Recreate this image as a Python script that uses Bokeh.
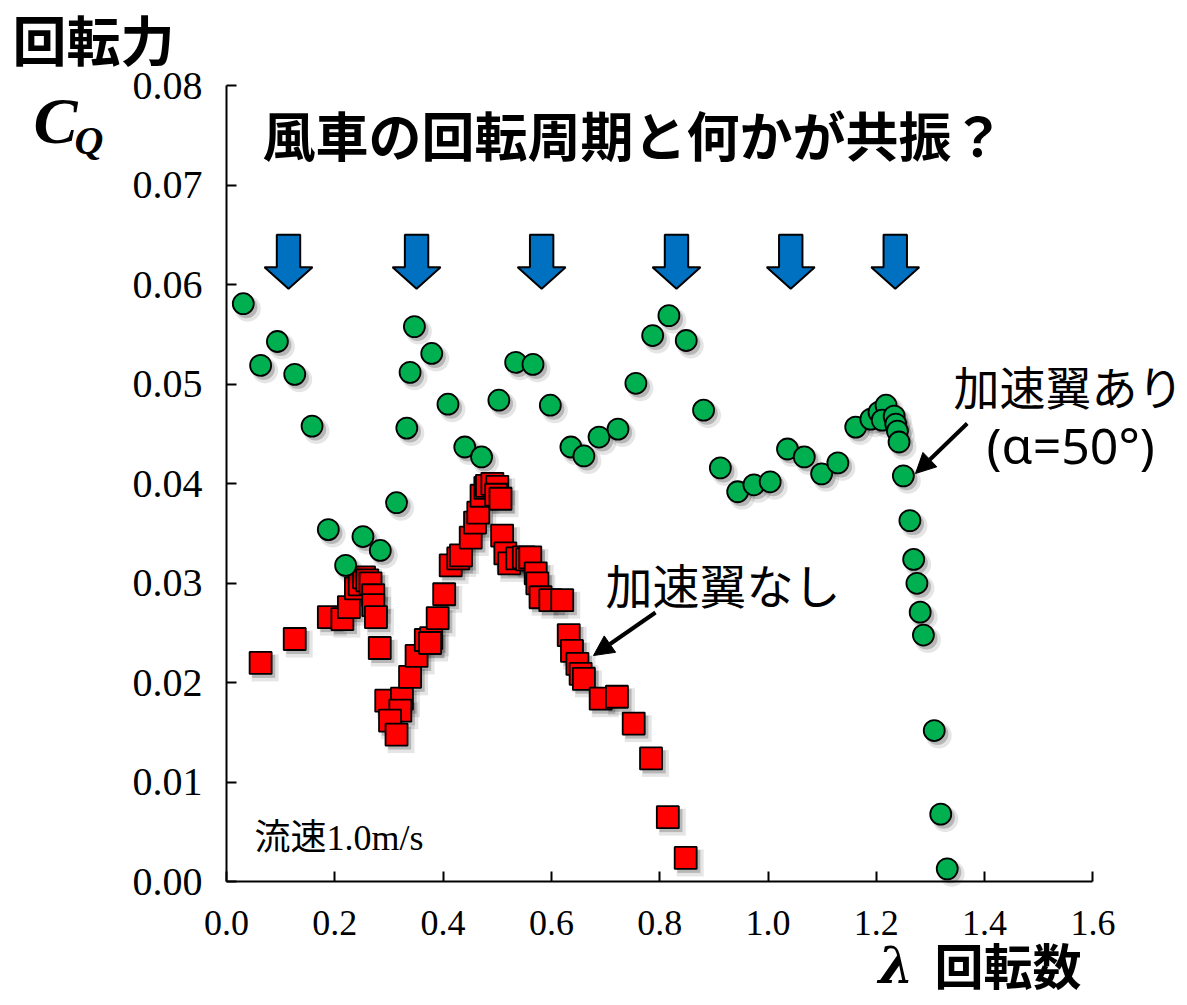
from bokeh.plotting import figure
from bokeh.models import (Range1d, FixedTicker, NumeralTickFormatter, Label, Arrow,
                          NormalHead, ColumnDataSource, LinearAxis)
from bokeh.transform import dodge
from bokeh.embed import file_html
from bokeh.resources import INLINE

# ---------------- data ----------------
x_ticks = [0.0, 0.2, 0.4, 0.6, 0.8, 1.0, 1.2, 1.4, 1.6]
y_ticks = [0.00, 0.01, 0.02, 0.03, 0.04, 0.05, 0.06, 0.07, 0.08]

# 加速翼なし (red squares)
red_lambda = [0.063, 0.126, 0.189, 0.214, 0.226, 0.239, 0.246, 0.254, 0.260, 0.266,
              0.271, 0.271, 0.276, 0.283, 0.295, 0.324, 0.321, 0.302, 0.314, 0.339,
              0.351, 0.368, 0.378, 0.376, 0.390, 0.402, 0.414, 0.428, 0.433, 0.451,
              0.459, 0.465, 0.471, 0.478, 0.481, 0.491, 0.500, 0.498, 0.506, 0.509,
              0.515, 0.522, 0.537, 0.549, 0.555, 0.561, 0.571, 0.574, 0.580, 0.598,
              0.620, 0.632, 0.638, 0.648, 0.654, 0.660, 0.691, 0.721, 0.752, 0.784,
              0.815, 0.848]
red_cq = [0.0220, 0.0244, 0.0266, 0.0264, 0.0276, 0.0295, 0.0299, 0.0306, 0.0303, 0.0300,
          0.0288, 0.0278, 0.0266, 0.0235, 0.0182, 0.0184, 0.0172, 0.0162, 0.0148, 0.0206,
          0.0227, 0.0243, 0.0245, 0.0240, 0.0265, 0.0289, 0.0318, 0.0325, 0.0328, 0.0346,
          0.0361, 0.0371, 0.0388, 0.0396, 0.0398, 0.0400, 0.0397, 0.0389, 0.0385, 0.0348,
          0.0330, 0.0320, 0.0325, 0.0326, 0.0324, 0.0326, 0.0310, 0.0300, 0.0286, 0.0283,
          0.0283, 0.0248, 0.0232, 0.0219, 0.0209, 0.0204, 0.0184, 0.0186, 0.0159, 0.0124,
          0.0065, 0.0024]

# 加速翼あり α=50° (green circles)
green_lambda = [0.031, 0.063, 0.094, 0.126, 0.158, 0.188, 0.220, 0.252, 0.284, 0.314,
                0.333, 0.339, 0.347, 0.379, 0.409, 0.440, 0.471, 0.503, 0.534, 0.566,
                0.598, 0.636, 0.660, 0.688, 0.723, 0.756, 0.787, 0.817, 0.849, 0.881,
                0.912, 0.944, 0.974, 1.004, 1.036, 1.067, 1.099, 1.129, 1.162, 1.190,
                1.205, 1.218, 1.211, 1.233, 1.236, 1.239, 1.242, 1.250, 1.262, 1.269,
                1.275, 1.281, 1.287, 1.307, 1.319, 1.331]
green_cq = [0.0581, 0.0519, 0.0543, 0.0510, 0.0458, 0.0354, 0.0318, 0.0347, 0.0333, 0.0381,
            0.0456, 0.0512, 0.0558, 0.0531, 0.0480, 0.0437, 0.0427, 0.0484, 0.0522, 0.0520,
            0.0479, 0.0437, 0.0428, 0.0447, 0.0455, 0.0501, 0.0549, 0.0569, 0.0544, 0.0474,
            0.0416, 0.0392, 0.0399, 0.0402, 0.0435, 0.0427, 0.0410, 0.0421, 0.0457, 0.0465,
            0.0472, 0.0479, 0.0464, 0.0468, 0.0460, 0.0453, 0.0442, 0.0408, 0.0363, 0.0324,
            0.0300, 0.0271, 0.0248, 0.0152, 0.0068, 0.0013]

# resonance markers (blue arrows) λ positions
resonance_lambda = [0.1145, 0.351, 0.582, 0.831, 1.042, 1.235]

# ---------------- layout (canvas pixels -> data) ----------------
W, H = 1185, 1003
X0_PX, X_SCALE = 226.0, 541.5      # x of λ=0, px per unit λ
Y0_PX, Y_SCALE = 881.3, 9950.0     # y of CQ=0, px per unit CQ


def px(xp):
    return (xp - X0_PX) / X_SCALE


def py(yp):
    return (Y0_PX - yp) / Y_SCALE


p = figure(width=W, height=H, output_backend="svg", toolbar_location=None,
           x_range=Range1d(px(0), px(W)), y_range=Range1d(py(H), py(0)),
           x_axis_location=None, y_axis_location=None,
           min_border=0, min_border_left=0, min_border_right=0,
           min_border_top=0, min_border_bottom=0)
p.title.visible = False
p.xgrid.visible = False
p.ygrid.visible = False
p.outline_line_color = None
p.background_fill_color = "white"
p.border_fill_color = "white"

xa = LinearAxis(fixed_location=0, bounds=(0, 1.6), ticker=FixedTicker(ticks=x_ticks),
                formatter=NumeralTickFormatter(format="0.0"))
ya = LinearAxis(fixed_location=0, bounds=(0, 0.08), ticker=FixedTicker(ticks=y_ticks),
                formatter=NumeralTickFormatter(format="0.00"))
for ax, fs, so in ((xa, "36px", 29), (ya, "40px", 24)):
    ax.axis_line_width = 2
    ax.axis_line_color = "black"
    ax.major_tick_in = 10
    ax.major_tick_out = 0
    ax.minor_tick_in = 0
    ax.minor_tick_out = 0
    ax.major_tick_line_width = 2
    ax.major_tick_line_color = "black"
    ax.major_label_text_font = "Liberation Serif"
    ax.major_label_text_font_size = fs
    ax.major_label_text_color = "black"
    ax.major_label_standoff = so
p.add_layout(xa, "below")
p.add_layout(ya, "left")

# blue resonance arrows
hs, hh = 11.7 / X_SCALE, 24.0 / X_SCALE
top, base, tip = py(234.3), py(266.7), py(288.3)
axs = [[c - hs, c + hs, c + hs, c + hh, c, c - hh, c - hs] for c in resonance_lambda]
ays = [[top, top, base, base, tip, base, base] for _ in resonance_lambda]
p.patches(xs=axs, ys=ays, fill_color="#0070C0", line_color="black", line_width=2)

red_src = ColumnDataSource(dict(x=red_lambda, y=red_cq))
green_src = ColumnDataSource(dict(x=green_lambda, y=green_cq))

sx, sy = 4.5 / X_SCALE, -5.0 / Y_SCALE
# shadows
p.scatter(x=dodge("x", sx), y=dodge("y", sy), source=red_src, marker="square", size=27,
          fill_color="#000000", fill_alpha=0.10, line_color=None)
p.scatter(x=dodge("x", sx * 0.7), y=dodge("y", sy * 0.7), source=red_src, marker="square",
          size=23, fill_color="#000000", fill_alpha=0.2, line_color=None)
p.scatter(x="x", y="y", source=red_src, marker="square", size=22,
          fill_color="#FF0000", line_color="black", line_width=1.8)

p.scatter(x=dodge("x", sx), y=dodge("y", sy), source=green_src, marker="circle", size=26,
          fill_color="#000000", fill_alpha=0.10, line_color=None)
p.scatter(x=dodge("x", sx * 0.7), y=dodge("y", sy * 0.7), source=green_src, marker="circle",
          size=22, fill_color="#000000", fill_alpha=0.2, line_color=None)
p.scatter(x="x", y="y", source=green_src, marker="circle", size=21,
          fill_color="#00B050", line_color="black", line_width=1.8)

# annotation arrows
p.add_layout(Arrow(x_start=px(655), y_start=py(612), x_end=px(593), y_end=py(655),
                   line_width=4, line_color="black",
                   end=NormalHead(size=20, fill_color="black", line_color="black")))
p.add_layout(Arrow(x_start=px(966.7), y_start=py(423), x_end=px(915), y_end=py(473),
                   line_width=4, line_color="black",
                   end=NormalHead(size=20, fill_color="black", line_color="black")))

CJK = "Noto Sans CJK JP"


def lab(text, xp, yp, size, font=CJK, style="normal", baseline="middle", align="left"):
    p.add_layout(Label(x=px(xp), y=py(yp), text=text, text_font=font,
                       text_font_size=size, text_font_style=style,
                       text_baseline=baseline, text_align=align, text_color="black"))


lab("風車の回転周期と何かが共振？", 262, 133, "53px", style="bold")
lab("回転力", 12, 38, "54px", style="bold")
lab("C", 33, 120, "66px", font="Liberation Serif", style="bold italic")
lab("Q", 74, 140, "40px", font="Liberation Serif", style="bold italic")
lab("加速翼なし", 605, 583, "47px")
lab("加速翼あり", 953, 384, "46px")
lab("(α=50°)", 986, 444, "50px", font="Noto Sans")
lab("流速1.0m/s", 254, 837, "36px", font="Liberation Serif, Noto Sans CJK JP")
lab("λ", 878, 965, "50px", font="DejaVu Serif", style="bold italic")
lab("回転数", 934, 963, "49px", style="bold")

open("out.html", "w").write(file_html(p, INLINE))
